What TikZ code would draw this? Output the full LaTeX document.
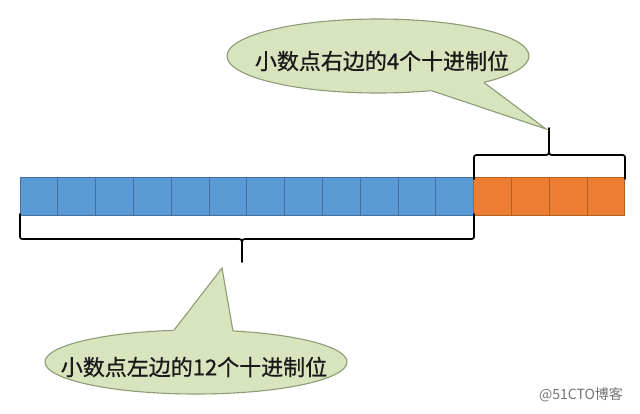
\documentclass[tikz,border=0pt]{standalone}
\usepackage{fontspec}
\newfontfamily\cjk{Noto Sans CJK SC}
\newfontfamily\cjkb[FakeBold=0.7]{Noto Sans CJK SC}
\usetikzlibrary{shapes.geometric,calc}
\definecolor{cellblue}{HTML}{5B9BD5}
\definecolor{blueedge}{HTML}{41719C}
\definecolor{cellorange}{HTML}{ED7D31}
\definecolor{orangeedge}{HTML}{B05F25}
\definecolor{bubblefill}{HTML}{D7E4BD}
\definecolor{bubbleedge}{HTML}{8E9C76}
\begin{document}
\begin{tikzpicture}[x=1pt,y=-1pt,
  cellb/.style={draw=blueedge, fill=cellblue, minimum width=37.8pt, minimum height=37.5pt, inner sep=0pt, outer sep=0pt, line width=0.7pt},
  cello/.style={draw=orangeedge, fill=cellorange, minimum width=37.8pt, minimum height=37.5pt, inner sep=0pt, outer sep=0pt, line width=0.7pt},
  bracel/.style={draw=black, line width=1.7pt, line cap=round, line join=round},
  bubble/.style={ellipse, draw=bubbleedge, fill=bubblefill, line width=1.1pt, inner sep=0pt, outer sep=0pt},
  tailside/.style={draw=bubbleedge, line width=1.1pt, line join=miter},
  lbl/.style={font=\cjkb\fontsize{22}{24}\selectfont, text=black!90, inner sep=0pt},
  wm/.style={font=\cjk\fontsize{14}{16}\selectfont, text=black!55, inner sep=0pt}]
\useasboundingbox (0,0) rectangle (640,413);
% bar cells
\foreach \i in {0,...,11}
  \node[cellb] (c\i) at ({38.9+37.8*\i},196.5) {};
\foreach \i in {12,...,15}
  \node[cello] (c\i) at ({38.9+37.8*\i},196.5) {};
% bottom brace
\draw[bracel] (20,214) -- (20,234) .. controls (20,239) .. (25,239) -- (236,239) .. controls (242,239) .. (242,245) -- (242,262);
\draw[bracel] (242,245) .. controls (242,239) .. (248,239) -- (469,239) .. controls (474,239) .. (474,234) -- (474,214);
% top brace
\draw[bracel] (474,179) -- (474,160) .. controls (474,155) .. (479,155) -- (543,155) .. controls (549,155) .. (549,149) -- (549,128);
\draw[bracel] (549,149) .. controls (549,155) .. (555,155) -- (620,155) .. controls (625,155) .. (625,160) -- (625,179);
% top callout
\coordinate (tip1) at (546,129);
\node[bubble, minimum width=302pt, minimum height=74pt] (e1) at (378,56) {};
\fill[bubblefill] (tip1) -- ($(tip1)!1.2!(e1.327)$) -- ($(tip1)!1.2!(e1.346)$) -- cycle;
\draw[tailside] (e1.327) -- (tip1) -- (e1.346);
\node[lbl] (t1) at (382,61) {小数点右边的4个十进制位};
% bottom callout
\coordinate (tip2) at (222,268);
\node[bubble, minimum width=302pt, minimum height=64pt] (e2) at (196,362) {};
\fill[bubblefill] (tip2) -- ($(tip2)!1.2!(e2.125)$) -- ($(tip2)!1.2!(e2.40)$) -- cycle;
\draw[tailside] (e2.125) -- (tip2) -- (e2.40);
\node[lbl] (t2) at (194,367) {小数点左边的12个十进制位};
% watermark
\node[wm] (w) at (581,395) {@51CTO博客};
\end{tikzpicture}
\end{document}
